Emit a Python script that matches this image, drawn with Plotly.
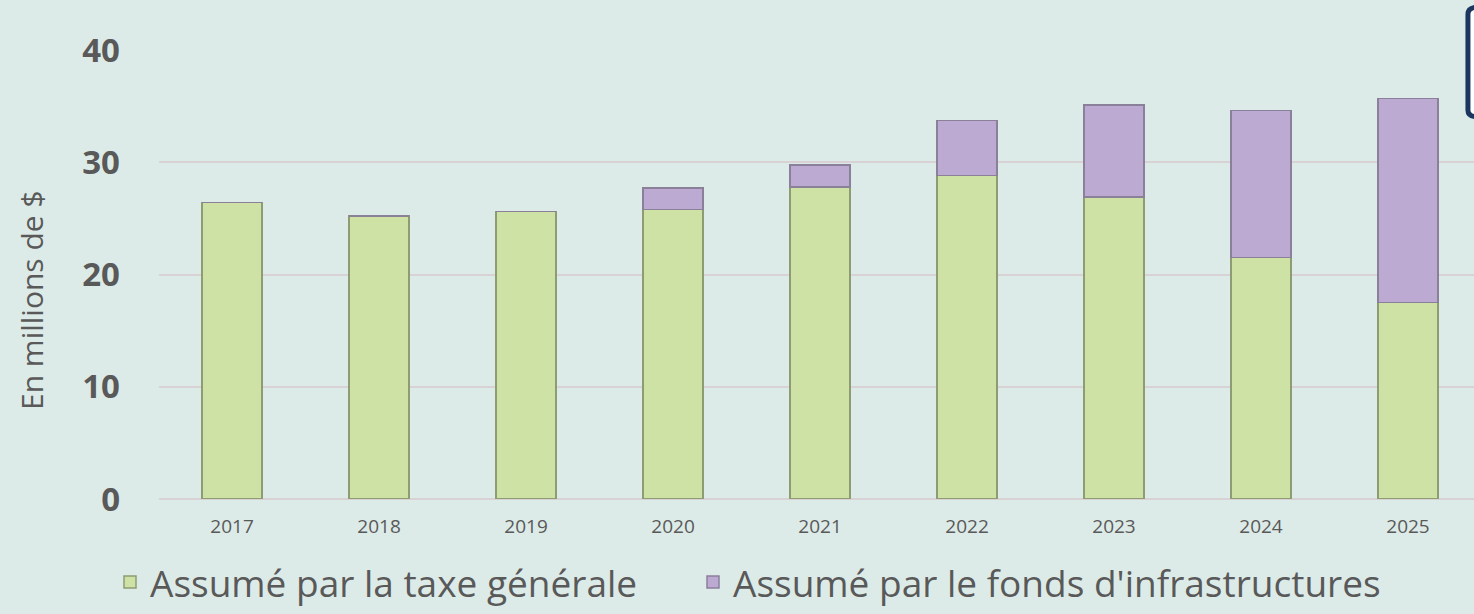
import plotly.graph_objects as go

years = ["2017", "2018", "2019", "2020", "2021", "2022", "2023", "2024", "2025"]
taxe_generale = [26.4, 25.2, 25.6, 25.8, 27.8, 28.8, 26.9, 21.5, 17.5]
fonds_infra = [0, 0, 0, 1.9, 1.95, 4.9, 8.2, 13.1, 18.2]
y_ticks = [0, 10, 20, 30, 40]

BG = "#ddebe8"
fig = go.Figure()
fig.add_trace(go.Bar(
    x=years, y=taxe_generale, name="Assumé par la taxe générale",
    marker=dict(color="#cfe2a6", line=dict(color="#8d9c73", width=1.5)),
    width=0.41, legend="legend",
))
fig.add_trace(go.Bar(
    x=years, y=fonds_infra, name="Assumé par le fonds d'infrastructures",
    marker=dict(color="#bdaad3", line=dict(color="#8a809a", width=1.5)),
    width=0.41, legend="legend2",
))

leg_common = dict(
    orientation="h", xref="paper", xanchor="left",
    y=-0.186, yanchor="middle",
    font=dict(size=37, color="#595959"),
    itemwidth=30, bgcolor="rgba(0,0,0,0)",
)

fig.update_layout(
    barmode="stack",
    width=1474, height=614,
    paper_bgcolor=BG, plot_bgcolor=BG,
    margin=dict(l=159, r=0, t=50, b=115, autoexpand=False),
    font=dict(family="Open Sans", color="#595959"),
    xaxis=dict(
        type="category", range=[-0.497, 8.449],
        showgrid=False, showline=False, zeroline=False,
        tickfont=dict(size=19, color="#595959"), ticks="", ticklabelstandoff=14,
    ),
    yaxis=dict(
        range=[0, 40], tickvals=y_ticks,
        showgrid=True, gridcolor="#d8d2d5", gridwidth=2,
        zeroline=True, zerolinecolor="#d8d2d5", zerolinewidth=2,
        tickfont=dict(size=33, color="#595959", family="Open Sans", weight="bold"),
        ticklabelstandoff=38,
    ),
    legend=dict(x=(110 - 159) / 1315, **leg_common),
    legend2=dict(x=(693 - 159) / 1315, **leg_common),
    showlegend=True,
)

fig.add_annotation(
    text="En millions de $", textangle=-90,
    xref="paper", yref="paper",
    x=(31 - 159) / 1315, y=(499 - 300) / 449,
    xanchor="center", yanchor="middle", showarrow=False,
    font=dict(size=30, color="#595959", family="Open Sans"),
)

# partially visible dark text box at top right
fig.add_shape(
    type="path", xref="paper", yref="paper",
    path="M 0.9954,1.08 Q 0.9954,1.0958 1.004,1.0958 L 1.05,1.0958 L 1.05,0.8508 L 1.004,0.8508 Q 0.9954,0.8508 0.9954,0.866 Z",
    fillcolor="#ffffff", line=dict(color="#1c3660", width=5), layer="above",
)

fig.write_html("out.html", post_script="document.body.style.margin='0';",
               config={"displayModeBar": False})
